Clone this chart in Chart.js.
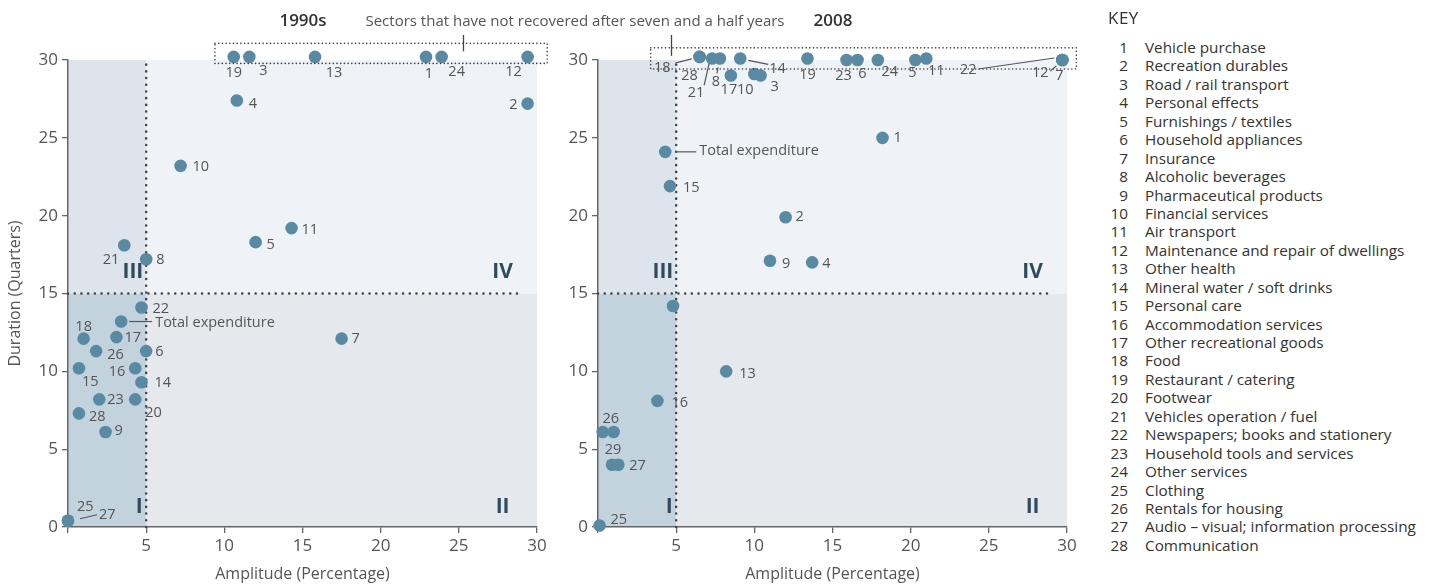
<!DOCTYPE html>
<html>
<head>
<meta charset="utf-8">
<script src="https://cdn.jsdelivr.net/npm/chart.js@4.4.0/dist/chart.umd.min.js"></script>
<style>
body { margin:0; width:1435px; height:585px; background:#fff; position:relative; overflow:hidden; font-family:"Open Sans", sans-serif; }
.pane { position:absolute; top:0; width:560px; height:585px; }
.head { position:absolute; top:8px; font-size:17px; color:#333; white-space:nowrap; transform:translateX(-50%); }
.row { position:absolute; font-size:15.3px; color:#333; white-space:nowrap; line-height:18px; }
.num { position:absolute; left:1106px; width:22px; text-align:right; }
</style>
</head>
<body>
<div class="pane" style="left:0"><canvas id="c1"></canvas></div>
<div class="pane" style="left:530px"><canvas id="c2"></canvas></div>
<div class="head" style="left:303px;font-weight:600">1990s</div>
<div class="head" style="left:575px;font-size:15px;color:#555;top:10px">Sectors that have not recovered after seven and a half years</div>
<div class="head" style="left:833px;font-weight:600">2008</div>
<div id="key"></div>
<script>
// 1990s panel
var ids90 = ['19','3','13','1','24','12','4','2','10','11','5','21','8','22','Total expenditure','17','18','26','6','15','16','14','23','20','28','9','25','27','7'];
var amp90 = [10.6,11.6,15.8,22.9,23.9,29.4,10.8,29.4,7.2,14.3,12.0,3.6,5.0,4.7,3.4,3.1,1.0,1.8,5.0,0.7,4.3,4.7,2.0,4.3,0.7,2.4,0,0,17.5];
var dur90 = [30.2,30.2,30.2,30.2,30.2,30.2,27.4,27.2,23.2,19.2,18.3,18.1,17.2,14.1,13.2,12.2,12.1,11.3,11.3,10.2,10.2,9.3,8.2,8.2,7.3,6.1,0.4,0.4,12.1];

// 2008 panel
var ids08 = ['18','28','21','8','17','14','10','3','19','23','6','24','5','11','22','12','7','Total expenditure','15','2','9','4','','1','13','16','26','','29','27','25'];
var amp08 = [6.5,6.5,7.3,7.8,8.5,9.1,10.0,10.4,13.4,15.9,16.6,17.9,20.3,21.0,29.7,29.7,29.7,4.3,4.6,12.0,11.0,13.7,4.8,18.2,8.2,3.8,0.3,1.0,0.9,1.3,0.1];
var dur08 = [30.2,30.2,30.1,30.1,29.0,30.1,29.1,29.0,30.1,30.0,30.0,30.0,30.0,30.1,30.0,30.0,30.0,24.1,21.9,19.9,17.1,17.0,14.2,25.0,10.0,8.1,6.1,6.1,4.0,4.0,0.1];

var tickVals = [0,5,10,15,20,25,30];

var keyNames = ['Vehicle purchase','Recreation durables','Road / rail transport','Personal effects','Furnishings / textiles','Household appliances','Insurance','Alcoholic beverages','Pharmaceutical products','Financial services','Air transport','Maintenance and repair of dwellings','Other health','Mineral water / soft drinks','Personal care','Accommodation services','Other recreational goods','Food','Restaurant / catering','Footwear','Vehicles operation / fuel','Newspapers; books and stationery','Household tools and services','Other services','Clothing','Rentals for housing','Audio – visual; information processing','Communication'];

// label placement (pixels from the dot): [dx, dy, align, leader]
var pos90 = [
  [0,16,'center'],[14,14,'center'],[19,16,'center'],[3,17,'center'],[15,15,'center'],[-14,15,'center'],
  [12,3,'left'],[-10,1,'right'],[12,1,'left'],[10,2,'left'],[11,3,'left'],[-5,15,'right'],[10,1,'left'],
  [11,1,'left'],[34,1,'left',[8,0,31,0]],[8,1,'left'],[0,-12,'center'],[11,4,'left'],[9,1,'left'],
  [3,14,'left'],[-10,4,'right'],[13,1,'left'],[8,1,'left'],[10,14,'left'],[10,4,'left'],[9,-1,'left'],
  [9,-14,'left'],[31,-6,'left',[12,-2,29,-6]],[10,0,'left']
];
var pos08 = [
  [-29,11,'right',[-24,6,-8,2]],[-10,19,'center'],[-16,34,'center',[-8,27,-3,5]],[-4,23,'center',[-3,15,-2,9]],
  [-2,14,'center'],[29,10,'left',[8,2,28,6]],[-9,16,'center'],[14,11,'center'],[0,16,'center'],[-3,16,'center'],
  [5,14,'center'],[12,12,'center'],[-3,13,'center'],[10,12,'center'],[-94,10,'center',[-84,9,-8,-2]],
  [-22,13,'center',[-12,11,-6,6]],[-3,16,'center'],[34,-1,'left',[11,0,31,0]],[13,2,'left'],[10,0,'left'],
  [12,3,'left'],[10,2,'left'],null,[11,0,'left'],[13,3,'left'],[14,2,'left'],[8,-13,'center'],null,
  [1,-15,'center'],[11,1,'left'],[11,-6,'left']
];

Chart.defaults.font.family = '"Open Sans", sans-serif';
Chart.defaults.color = '#555';

var deco = {
  id: 'deco',
  beforeDraw: function (chart) {
    var ctx = chart.ctx, x = chart.scales.x, y = chart.scales.y;
    function rect(x0, x1, y0, y1, c) {
      ctx.fillStyle = c;
      ctx.fillRect(x.getPixelForValue(x0), y.getPixelForValue(y1),
        x.getPixelForValue(x1) - x.getPixelForValue(x0), y.getPixelForValue(y0) - y.getPixelForValue(y1));
    }
    ctx.save();
    rect(0, 5, 0, 15, '#c3d3de');
    rect(0, 5, 15, 30, '#dde4eb');
    rect(5, 30, 0, 15, '#e5e9ee');
    rect(5, 30, 15, 30, '#eff3f7');
    ctx.restore();
  },
  beforeDatasetsDraw: function (chart) {
    var ctx = chart.ctx, x = chart.scales.x, y = chart.scales.y;
    ctx.save();
    ctx.strokeStyle = '#444';
    ctx.lineWidth = 2.5;
    ctx.lineCap = 'round';
    ctx.setLineDash([0.1, 6.6]);
    ctx.beginPath();
    ctx.moveTo(x.getPixelForValue(5), y.getPixelForValue(0));
    ctx.lineTo(x.getPixelForValue(5), y.getPixelForValue(30));
    ctx.moveTo(x.getPixelForValue(0), y.getPixelForValue(15));
    ctx.lineTo(x.getPixelForValue(29), y.getPixelForValue(15));
    ctx.stroke();
    ctx.restore();
  },
  afterDatasetsDraw: function (chart) {
    var ctx = chart.ctx, x = chart.scales.x, y = chart.scales.y;
    var o = chart.options.plugins.deco;
    var meta = chart.getDatasetMeta(0);
    ctx.save();
    // dotted box around the unrecovered sectors
    var b = o.box;
    ctx.strokeStyle = '#444';
    ctx.lineWidth = 1.6;
    ctx.lineCap = 'round';
    ctx.setLineDash([0.1, 3.6]);
    ctx.strokeRect(x.getPixelForValue(b[0]), y.getPixelForValue(b[3]),
      x.getPixelForValue(b[1]) - x.getPixelForValue(b[0]), y.getPixelForValue(b[2]) - y.getPixelForValue(b[3]));
    ctx.setLineDash([]);
    ctx.lineWidth = 1.3;
    ctx.lineCap = 'butt';
    ctx.beginPath();
    var cx = Math.round(x.getPixelForValue(b[4])) + 0.5;
    ctx.moveTo(cx, 35);
    ctx.lineTo(cx, y.getPixelForValue(b[3]) + 8);
    ctx.stroke();
    // point labels
    ctx.font = '14.5px "Open Sans", sans-serif';
    ctx.fillStyle = '#555';
    ctx.textBaseline = 'middle';
    ctx.strokeStyle = '#555';
    ctx.lineWidth = 1.2;
    meta.data.forEach(function (pt, i) {
      var p = o.pos[i];
      if (!p || !o.ids[i]) return;
      ctx.textAlign = p[2];
      ctx.fillText(o.ids[i], pt.x + p[0], pt.y + p[1]);
      if (p[3]) {
        ctx.beginPath();
        ctx.moveTo(pt.x + p[3][0], pt.y + p[3][1]);
        ctx.lineTo(pt.x + p[3][2], pt.y + p[3][3]);
        ctx.stroke();
      }
    });
    // quadrant numerals
    ctx.font = 'bold 21px "Open Sans", sans-serif';
    ctx.fillStyle = '#2e4a5d';
    ctx.textAlign = 'center';
    [['I', 4.55, 1.3], ['III', 4.15, 16.4], ['IV', 27.8, 16.4], ['II', 27.8, 1.3]].forEach(function (n) {
      ctx.fillText(n[0], x.getPixelForValue(n[1]), y.getPixelForValue(n[2]));
    });
    ctx.restore();
  }
};

function panel(id, ids, amp, dur, pos, box, yTitle) {
  var pts = amp.map(function (v, i) { return { x: v, y: dur[i] }; });
  new Chart(document.getElementById(id), {
    type: 'scatter',
    data: {
      datasets: [{
        data: pts,
        clip: false,
        pointRadius: 6.3,
        pointBorderWidth: 0,
        pointBackgroundColor: '#5a89a4',
        pointHoverRadius: 6.3
      }]
    },
    options: {
      responsive: true,
      maintainAspectRatio: false,
      animation: false,
      events: [],
      layout: { padding: { top: 60, right: 23, left: 0, bottom: 0 } },
      plugins: {
        legend: { display: false },
        tooltip: { enabled: false },
        deco: { ids: ids, pos: pos, box: box }
      },
      scales: {
        x: {
          type: 'linear', min: 0, max: 30,
          afterBuildTicks: function (s) { s.ticks = tickVals.map(function (v) { return { value: v }; }); },
          ticks: { font: { size: 17 }, color: '#555', padding: 3, callback: function (v) { return v === 0 ? '' : v; } },
          grid: { drawOnChartArea: false, drawTicks: true, tickLength: 6, color: '#666', lineWidth: 1.3 },
          border: { display: true, color: '#666', width: 1.5 },
          title: { display: true, text: 'Amplitude (Percentage)', font: { size: 16 }, color: '#555', padding: { top: 0, bottom: 1 } },
          afterFit: function (s) { s.height = 58; }
        },
        y: {
          type: 'linear', min: 0, max: 30,
          afterBuildTicks: function (s) { s.ticks = tickVals.map(function (v) { return { value: v }; }); },
          ticks: { font: { size: 17 }, color: '#555', padding: 4 },
          grid: { drawOnChartArea: false, drawTicks: true, tickLength: 6, color: '#666', lineWidth: 1.3 },
          border: { display: true, color: '#666', width: 1.5 },
          title: { display: yTitle, text: 'Duration (Quarters)', font: { size: 16 }, color: '#555', padding: { top: 6, bottom: 0 } },
          afterFit: function (s) { s.width = 68; }
        }
      }
    },
    plugins: [deco]
  });
}

panel('c1', ids90, amp90, dur90, pos90, [9.4, 30.65, 29.78, 31.07, 25.25], true);
panel('c2', ids08, amp08, dur08, pos08, [3.37, 30.6, 29.42, 30.78, 4.7], false);

// key
var key = document.getElementById('key');
var h = '<div class="row" style="left:1108px;top:9px;font-size:17px;letter-spacing:0.5px">KEY</div>';
keyNames.forEach(function (n, i) {
  var t = 38 + i * 18.44;
  h += '<div class="row num" style="top:' + t + 'px">' + (i + 1) + '</div>' +
       '<div class="row" style="left:1145px;top:' + t + 'px">' + n + '</div>';
});
key.innerHTML = h;
</script>
</body>
</html>
